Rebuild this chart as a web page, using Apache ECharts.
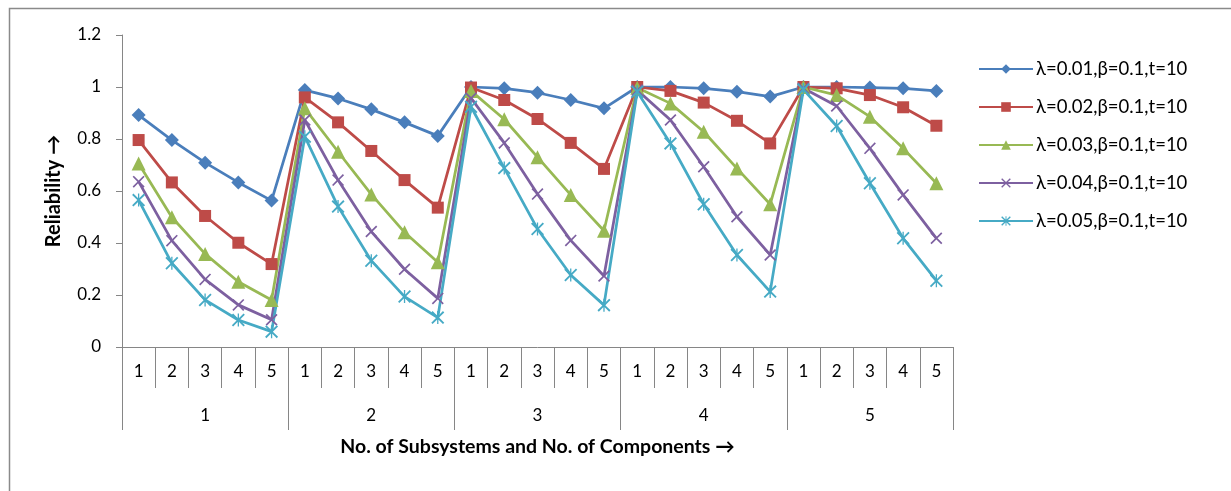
<!DOCTYPE html>
<html>
<head>
<meta charset="utf-8">
<script src="https://cdn.jsdelivr.net/npm/echarts@6/dist/echarts.min.js"></script>
<style>
html,body{margin:0;padding:0;background:#fff;}
#c{width:1231px;height:491px;}
</style>
</head>
<body>
<div id="c"></div>
<script>
const components = ['1','2','3','4','5','1','2','3','4','5','1','2','3','4','5','1','2','3','4','5','1','2','3','4','5'];
const subsystems = ['1','2','3','4','5'];
const yTicks = [0, 0.2, 0.4, 0.6, 0.8, 1, 1.2];

const seriesNames = ['λ=0.01,β=0.1,t=10','λ=0.02,β=0.1,t=10','λ=0.03,β=0.1,t=10','λ=0.04,β=0.1,t=10','λ=0.05,β=0.1,t=10'];

const lambda001 = [0.892,0.796,0.709,0.633,0.563, 0.988,0.956,0.914,0.864,0.812, 1.0,0.995,0.978,0.95,0.918, 1.0,1.0,0.995,0.982,0.963, 1.0,1.0,0.998,0.995,0.985];
const lambda002 = [0.796,0.633,0.504,0.401,0.319, 0.96,0.864,0.754,0.642,0.536, 0.998,0.95,0.877,0.785,0.685, 1.0,0.985,0.94,0.87,0.783, 1.0,0.995,0.969,0.922,0.851];
const lambda003 = [0.706,0.499,0.358,0.251,0.181, 0.918,0.751,0.587,0.441,0.326, 0.985,0.876,0.73,0.585,0.447, 0.997,0.937,0.828,0.687,0.549, 1.0,0.969,0.886,0.764,0.63];
const lambda004 = [0.636,0.409,0.26,0.162,0.105, 0.873,0.642,0.444,0.299,0.187, 0.957,0.785,0.588,0.41,0.273, 0.988,0.873,0.693,0.501,0.354, 0.995,0.927,0.764,0.585,0.418];
const lambda005 = [0.565,0.322,0.181,0.104,0.059, 0.809,0.54,0.332,0.194,0.113, 0.924,0.688,0.454,0.277,0.161, 0.982,0.783,0.549,0.354,0.213, 0.99,0.85,0.63,0.418,0.255];

const colors = ['#4A7EBB','#BE4B48','#98B954','#7D60A0','#46AAC5'];
const xPath = 'path://M2,0 L10,8 L18,0 L20,2 L12,10 L20,18 L18,20 L10,12 L2,20 L0,18 L8,10 L0,2 Z';
const starPath = 'path://M2,0 L10,8 L18,0 L20,2 L12,10 L20,18 L18,20 L10,12 L2,20 L0,18 L8,10 L0,2 Z M9,0 L11,0 L11,20 L9,20 Z';
const symbols = ['diamond','rect','triangle',xPath,starPath];
const symbolSizes = [14,12,14,12,13];
const allData = [lambda001,lambda002,lambda003,lambda004,lambda005];

const FONT = 'Lato, "Open Sans", sans-serif';
const axisGray = '#868686';

const chart = echarts.init(document.getElementById('c'), null, {renderer:'canvas'});
chart.setOption({
  animation:false,
  backgroundColor:'#fff',
  textStyle:{fontFamily:FONT},
  graphic:[{type:'rect', left:7, top:6, shape:{width:1400, height:600}, style:{fill:'none', stroke:'#8a8a8a', lineWidth:1.5}, silent:true}],
  grid:{left:122, right:278, top:35, bottom:144, containLabel:false},
  legend:{
    orient:'vertical', left:973, top:53,
    itemWidth:54, itemHeight:12, itemGap:16,
    textStyle:{fontSize:18.5, color:'#000', fontFamily:FONT, lineHeight:22, padding:[0,0,0,-2]},
    data:seriesNames
  },
  xAxis:[{
    type:'category', data:components, boundaryGap:true, position:'bottom',
    axisLine:{show:true, lineStyle:{color:axisGray, width:1}},
    axisTick:{show:true, interval:0, length:41, lineStyle:{color:axisGray}},
    axisLabel:{interval:0, margin:16, fontSize:17, color:'#000', fontFamily:FONT},
    splitLine:{show:false},
    name:'No. of Subsystems and No. of Components →', nameLocation:'middle', nameGap:90,
    nameTextStyle:{fontSize:19.5, fontWeight:'bold', color:'#000', fontFamily:FONT}
  },{
    type:'category', data:subsystems, boundaryGap:true, position:'bottom', offset:0,
    axisLine:{show:false},
    axisTick:{show:true, interval:0, length:83, lineStyle:{color:axisGray}},
    axisLabel:{interval:0, margin:60, fontSize:17, color:'#000', fontFamily:FONT},
    splitLine:{show:false}
  }],
  yAxis:{
    type:'value', min:0, max:1.2, interval:0.2,
    axisLine:{show:true, lineStyle:{color:axisGray, width:1}},
    axisTick:{show:true, length:6, lineStyle:{color:axisGray}},
    axisLabel:{margin:21, fontSize:17, color:'#000', fontFamily:FONT,
      formatter:function(v){ const t = yTicks.find(x=>Math.abs(x-v)<1e-9); return String(t!==undefined?t:v); }},
    splitLine:{show:false},
    name:'Reliability →', nameLocation:'middle', nameGap:58,
    nameTextStyle:{fontSize:20, fontWeight:'bold', color:'#000', fontFamily:FONT}
  },
  series: allData.map((d,i)=>({
    name:seriesNames[i], type:'line', data:d, xAxisIndex:0,
    symbol:symbols[i], symbolSize:symbolSizes[i], showSymbol:true,
    lineStyle:{color:colors[i], width:2.75},
    itemStyle:{color:colors[i], borderWidth:0},
    emphasis:{disabled:true}
  }))
});
</script>
</body>
</html>
